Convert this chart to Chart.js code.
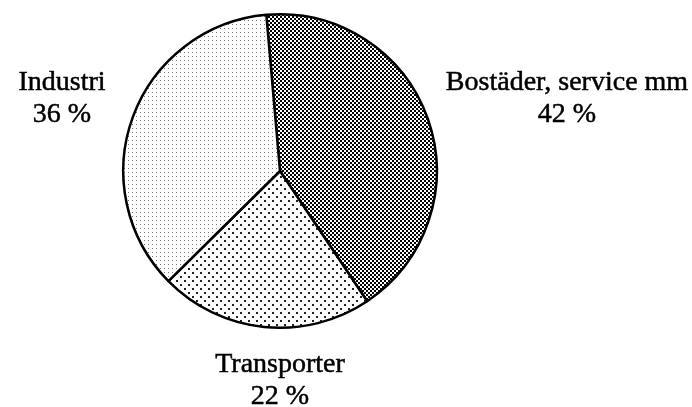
<!DOCTYPE html>
<html>
<head>
<meta charset="utf-8">
<script src="https://cdn.jsdelivr.net/npm/chart.js@4"></script>
<style>
  html, body { margin: 0; padding: 0; background: #fff; }
  canvas { display: block; }
</style>
</head>
<body>
<canvas id="energyPie" width="692" height="407"></canvas>
<script>
// Energianvändning per sektor
const categories = ['Bostäder, service mm', 'Transporter', 'Industri'];
const shares = [42, 22, 36];

// label offsets from the pie centre (px)
const labelOffsets = [[287, -72], [0, 210], [-218, -72]];

function makePattern(size, dots, color) {
    const c = document.createElement('canvas');
    c.width = size;
    c.height = size;
    const g = c.getContext('2d');
    g.fillStyle = '#fff';
    g.fillRect(0, 0, size, size);
    g.fillStyle = color;
    dots.forEach(function(d) {
        g.fillRect(d[0], d[1], d[2], d[2]);
    });
    return g.createPattern(c, 'repeat');
}

document.addEventListener('DOMContentLoaded', function() {
    const ctx = document.getElementById('energyPie').getContext('2d');

    const fills = [
        makePattern(4, [[0, 0, 2], [2, 2, 2]], '#000'),
        makePattern(8, [[0, 0, 2], [4, 4, 2]], '#222'),
        makePattern(4, [[0, 0, 1]], '#777')
    ];

    const pieLabels = {
        id: 'pieLabels',
        afterDraw: function(chart) {
            const arc = chart.getDatasetMeta(0).data[0];
            const g = chart.ctx;
            g.save();
            g.fillStyle = '#000';
            g.strokeStyle = '#000';
            g.lineWidth = 0.5;
            g.font = '28px "Liberation Serif", "DejaVu Serif", serif';
            g.textAlign = 'center';
            g.textBaseline = 'middle';
            categories.forEach(function(name, i) {
                const x = arc.x + labelOffsets[i][0];
                const y = arc.y + labelOffsets[i][1];
                g.fillText(name, x, y - 16);
                g.strokeText(name, x, y - 16);
                g.fillText(shares[i] + ' %', x, y + 16);
                g.strokeText(shares[i] + ' %', x, y + 16);
            });
            g.restore();
        }
    };

    new Chart(ctx, {
        type: 'pie',
        data: {
            labels: categories,
            datasets: [{
                data: shares,
                backgroundColor: fills,
                borderColor: '#000',
                borderWidth: 2.5
            }]
        },
        options: {
            responsive: false,
            animation: false,
            rotation: -5,
            layout: {
                padding: { top: 13, bottom: 78, left: 122, right: 254 }
            },
            plugins: {
                legend: { display: false },
                tooltip: { enabled: false }
            }
        },
        plugins: [pieLabels]
    });
});
</script>
</body>
</html>
